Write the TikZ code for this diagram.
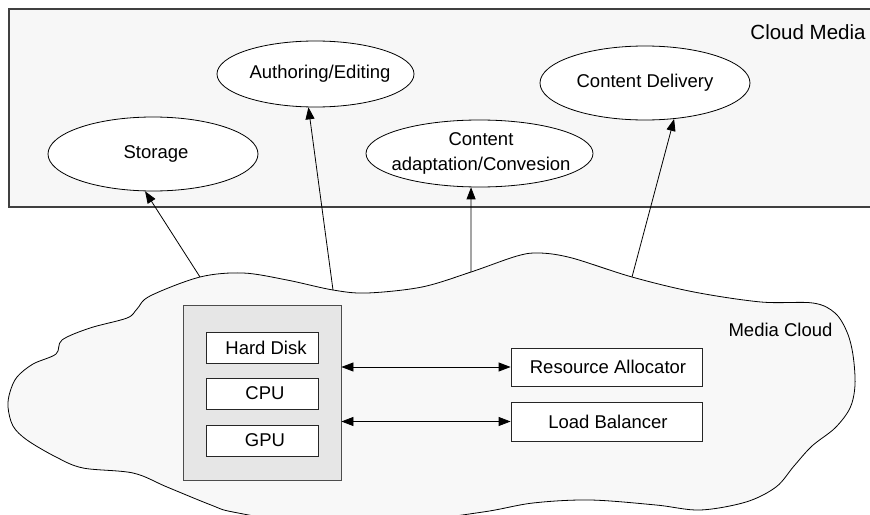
\documentclass[tikz,border=0pt]{standalone}
\usepackage{fontspec}
\setmainfont{Liberation Sans}
\usetikzlibrary{arrows.meta,shapes.geometric}
\definecolor{panel}{HTML}{F7F7F7}
\definecolor{cloudfill}{HTML}{F8F8F8}
\definecolor{boxgray}{HTML}{E6E6E6}
\begin{document}
\begin{tikzpicture}[x=1pt,y=-1pt,
  txt/.style={font=\fontsize{18.5}{25}\selectfont, align=center, inner sep=0pt},
  oval/.style={ellipse, draw, fill=white, line width=0.8pt, inner sep=0pt},
  unitbox/.style={draw=black!85, fill=white, line width=0.8pt, minimum width=112pt, minimum height=31pt, inner sep=0pt},
  sidebox/.style={draw=black!85, fill=white, line width=0.8pt, minimum width=191pt, inner sep=0pt},
  conn/.style={line width=0.8pt, -{Triangle[length=12pt,width=9pt]}},
  dconn/.style={line width=0.8pt, {Triangle[length=12pt,width=9pt]}-{Triangle[length=12pt,width=9pt]}}]
\useasboundingbox (0,0) rectangle (870,514);
\clip (0,0) rectangle (870,514);
\fill[white] (0,0) rectangle (870,514);

% Cloud Media panel
\draw[fill=panel, draw=black!75, line width=1.2pt] (9,9) rectangle (880,207);
\node[txt, font=\fontsize{20.5}{24}\selectfont] (cmlabel) at (808,32) {Cloud Media};

% ellipses
\node[oval, minimum width=210pt, minimum height=74pt] (stor) at (153,154) {};
\node[txt] at (156,154) {Storage};
\node[oval, minimum width=197pt, minimum height=66pt] (auth) at (315.5,74) {};
\node[txt] at (320,74) {Authoring/Editing};
\node[oval, minimum width=227pt, minimum height=67pt] (adapt) at (479.5,153.5) {};
\node[txt] at (481,153) {Content\\adaptation/Convesion};
\node[oval, minimum width=210pt, minimum height=74pt] (deliv) at (645,83) {};
\node[txt] at (645,83) {Content Delivery};

% Media Cloud
\draw[fill=cloudfill, line width=0.8pt] plot[smooth cycle, tension=0.55] coordinates {
 (200,277) (243,273) (287,280) (333,290) (367,293) (422,287) (471,272)
 (517,256) (540,253) (572,258) (632,277) (694,292) (761,302) (813,303)
 (835,313) (847,332) (853,355) (855,385) (850,408) (835,428) (812,446)
 (794,466) (776,487) (746,502) (700,510) (656,505) (590,500) (533,503)
 (483,512) (400,522) (300,522) (233,512) (211,505) (167,487) (133,473)
 (83,468) (56,457) (27,440) (13,426) (8,407) (10,392) (17,377) (33,364)
 (56,354) (62,340) (90,328) (127,318) (137,309) (150,296)};
\node[txt] (mclabel) at (780.5,330) {Media Cloud};

\coordinate (t1) at (200,277);
\coordinate (t2) at (333,290);
\coordinate (t3) at (471,272);
\coordinate (t4) at (632,277);

\draw[conn] (t1) -- (stor.258);
\draw[conn] (t2) -- (auth.258);
\draw[conn] (t3) -- (adapt.256);
\draw[conn] (t4) -- (deliv.309);

% resources
\node[draw=black!70, fill=boxgray, line width=0.8pt, minimum width=158pt, minimum height=175pt, inner sep=0pt] (gb) at (262,392.5) {};
\node[unitbox] (hd) at (262,347.5) {};
\node[txt] at (266,347.5) {Hard Disk};
\node[unitbox] (cpu) at (262,393.5) {};
\node[txt] at (265,393.5) {CPU};
\node[unitbox] (gpu) at (262,440.5) {};
\node[txt] at (265,440.5) {GPU};

\node[sidebox, minimum height=38pt] (ra) at (606.5,367) {};
\node[txt] at (608,367) {Resource Allocator};
\node[sidebox, minimum height=39pt] (lb) at (606.5,421.5) {};
\node[txt] at (608,421.5) {Load Balancer};

\draw[dconn] (gb.east |- ra.west) -- (ra.west);
\draw[dconn] (gb.east |- lb.west) -- (lb.west);
\end{tikzpicture}
\end{document}
